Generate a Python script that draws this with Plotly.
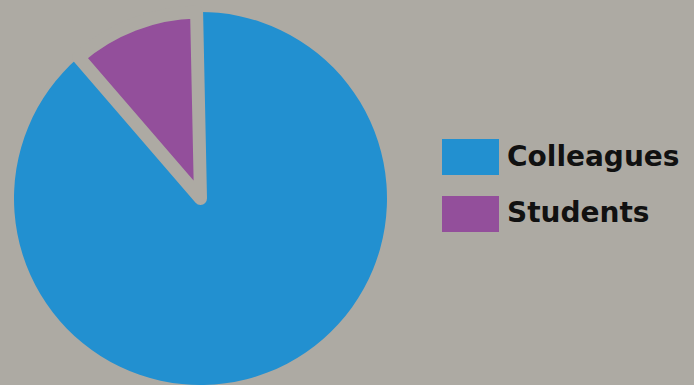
import plotly.graph_objects as go

labels = ["Colleagues", "Students"]
values = [89, 11]
colors = ["#2290D0", "#934F9B"]
bg = "#ADAAA3"

W, H = 694, 385

fig = go.Figure()
fig.add_trace(go.Pie(
    labels=labels, values=values, sort=False, direction="clockwise", rotation=-1.2,
    marker=dict(colors=colors, line=dict(color=bg, width=[0, 13])),
    textinfo="none", hoverinfo="label+percent",
    showlegend=False,
    domain=dict(x=[0, 401 / W], y=[0, 373 / H]),
))

# legend built from labels/colors
box_x0, box_x1 = 442, 499
row_centers = [157, 214]
for lab, col, yc in zip(labels, colors, row_centers):
    fig.add_shape(type="rect", xref="paper", yref="paper",
                  x0=box_x0 / W, x1=box_x1 / W,
                  y0=1 - (yc + 18) / H, y1=1 - (yc - 18) / H,
                  fillcolor=col, line=dict(width=0))
    fig.add_annotation(text=lab, xref="paper", yref="paper",
                       x=505 / W, y=1 - (yc - 1) / H, xanchor="left", yanchor="middle",
                       showarrow=False,
                       font=dict(family="DejaVu Sans", size=28, color="#111111", weight="bold"))

fig.update_layout(
    width=W, height=H,
    margin=dict(l=0, r=0, t=0, b=0),
    paper_bgcolor=bg, plot_bgcolor=bg,
)
fig.write_html("out.html")
